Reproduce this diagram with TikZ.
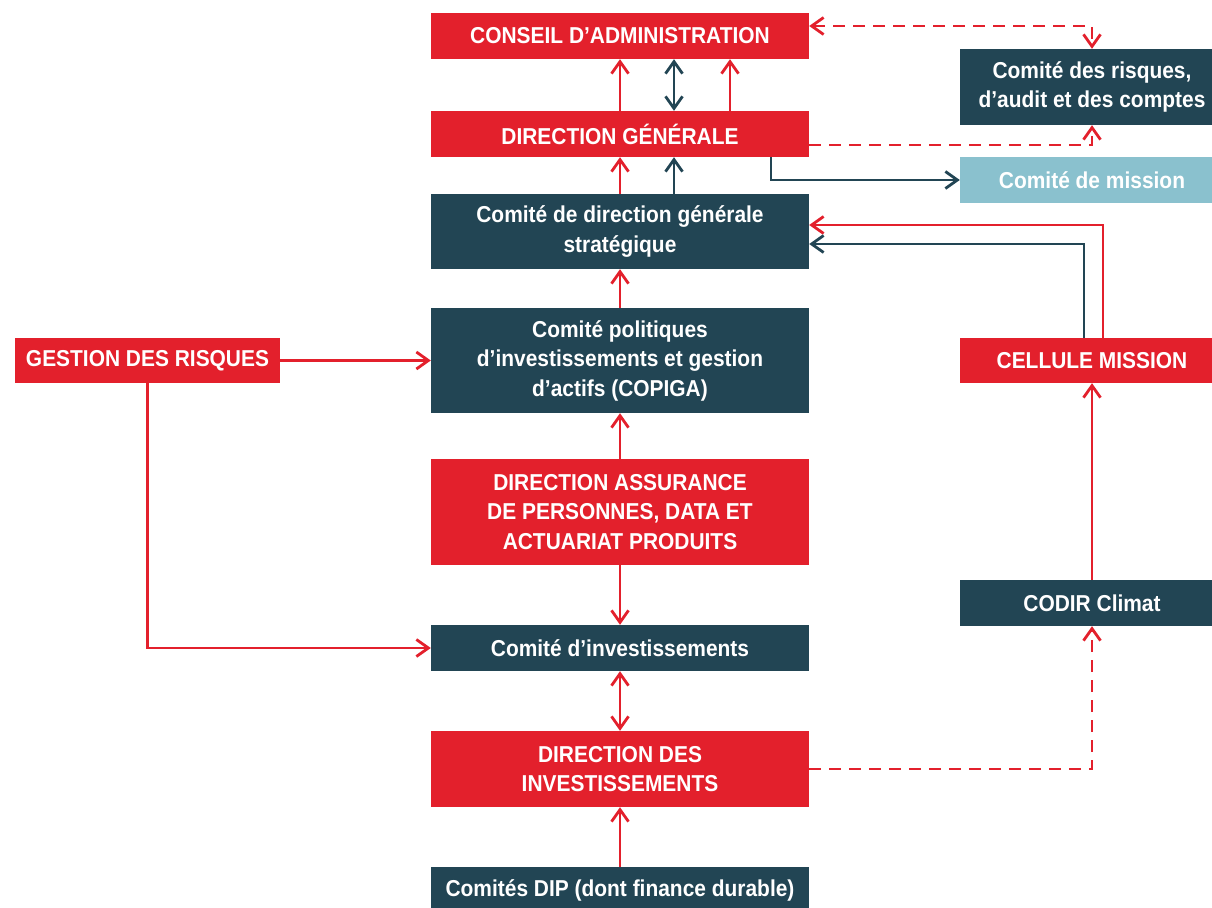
\documentclass[tikz,border=0pt]{standalone}
\usepackage{fontspec}
\setmainfont{Liberation Sans}[FakeStretch=0.91]
\usetikzlibrary{arrows.meta}
\definecolor{cred}{RGB}{227,32,44}
\definecolor{cdark}{RGB}{34,69,84}
\definecolor{clight}{RGB}{138,193,206}
\tikzset{
  box/.style={inner sep=0pt, text=white, font=\fontsize{23}{29.5}\selectfont\bfseries, align=center},
  mainbox/.style={box, minimum width=378pt},
  sidebox/.style={box, minimum width=264pt},
  redfill/.style={fill=cred},
  darkfill/.style={fill=cdark},
  lightfill/.style={fill=clight},
  rline/.style={draw=cred, line width=2.8pt},
  dline/.style={draw=cdark, line width=2.8pt},
  dashline/.style={rline, dash pattern=on 12pt off 8pt},
  >={Straight Barb[length=12pt,width=17pt]}
}
\begin{document}
\begin{tikzpicture}[x=1pt,y=-1pt]
\fill[white] (0,0) rectangle (1212,907);
\useasboundingbox (0,0) rectangle (1212,907);
% main column
\node[mainbox, redfill, minimum height=46pt] (ca) at (620,36) {CONSEIL D’ADMINISTRATION};
\node[mainbox, redfill, minimum height=46pt] (dg) at (620,134) {DIRECTION GÉNÉRALE};
\node[mainbox, darkfill, minimum height=75pt] (cdgs) at (620,231.5) {Comité de direction générale\\stratégique};
\node[mainbox, darkfill, minimum height=105pt] (copiga) at (620,360.5) {Comité politiques\\d’investissements et gestion\\d’actifs (COPIGA)};
\node[mainbox, redfill, minimum height=106pt] (das) at (620,512) {DIRECTION ASSURANCE\\DE PERSONNES, DATA ET\\ACTUARIAT PRODUITS};
\node[mainbox, darkfill, minimum height=46pt] (ci) at (620,648) {Comité d’investissements};
\node[mainbox, redfill, minimum height=76pt] (dinv) at (620,769) {DIRECTION DES\\INVESTISSEMENTS};
\node[mainbox, darkfill, minimum height=46pt] (dip) at (620,890) {Comités DIP (dont finance durable)};
% left
\node[box, redfill, minimum width=265pt, minimum height=45pt] (gr) at (147.5,360.5) {GESTION DES RISQUES};
% right column
\node[sidebox, darkfill, minimum height=76pt] (cra) at (1092,87) {Comité des risques,\\d’audit et des comptes};
\node[sidebox, lightfill, minimum height=46pt] (cm) at (1092,180) {Comité de mission};
\node[sidebox, redfill, minimum height=45pt] (cell) at (1092,360.5) {CELLULE MISSION};
\node[sidebox, darkfill, minimum height=46pt] (codir) at (1092,603) {CODIR Climat};
% helper coordinates
\coordinate (xa) at (674,0);
\coordinate (xb) at (730,0);
\coordinate (xc) at (771,0);
\coordinate (xd) at (1103,0);
\coordinate (xe) at (1084,0);
% vertical main arrows
\draw[rline,->] (dg.north) -- (ca.south);
\draw[dline,<->] (dg.north -| xa) -- (ca.south -| xa);
\draw[rline,->] (dg.north -| xb) -- (ca.south -| xb);
\draw[rline,->] (cdgs.north) -- (dg.south);
\draw[dline,->] (cdgs.north -| xa) -- (dg.south -| xa);
\draw[rline,->] (copiga.north) -- (cdgs.south);
\draw[rline,->] (das.north) -- (copiga.south);
\draw[rline,->] (das.south) -- (ci.north);
\draw[rline,<->] (ci.south) -- (dinv.north);
\draw[rline,->] (dip.north) -- (dinv.south);
% DG to comité de mission
\draw[dline,->] (dg.south -| xc) |- (cm.west);
% dashed to comité des risques
\draw[dashline,<->] ([yshift=10pt]ca.east) -| (cra.north);
\draw[dashline,->] ([yshift=-11pt]dg.east) -| (cra.south);
% cellule mission to CDGS
\draw[rline,->] (cell.north -| xd) |- ([yshift=6.5pt]cdgs.east);
\draw[dline,->] (cell.north -| xe) |- ([yshift=-12.5pt]cdgs.east);
% codir to cellule
\draw[rline,->] (codir.north) -- (cell.south);
% dinv dashed to codir
\draw[dashline,->] (dinv.east) -| (codir.south);
% gestion des risques
\draw[rline,->] (gr.east) -- (copiga.west);
\draw[rline,->] (gr.south) |- (ci.west);
\end{tikzpicture}
\end{document}
